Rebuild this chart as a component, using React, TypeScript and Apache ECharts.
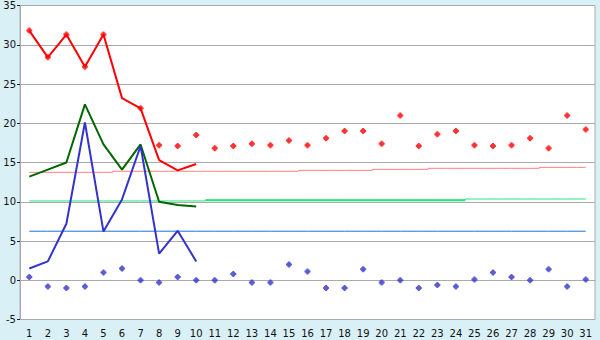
import React, { useEffect, useRef } from "react";
import * as echarts from "echarts";

const days = Array.from({ length: 31 }, (_, i) => String(i + 1));

const redLine = [31.8, 28.4, 31.3, 27.2, 31.3, 23.2, 21.9, 15.3, 14.0, 14.8];
const redDots = [31.8, 28.4, 31.3, 27.2, 31.3, null, 21.9, 17.2, 17.1, 18.5, 16.8, 17.1, 17.4, 17.2, 17.8, 17.2, 18.1, 19.0, 19.0, 17.4, 21.0, 17.1, 18.6, 19.0, 17.2, 17.1, 17.2, 18.1, 16.8, 21.0, 19.2];
const greenLine = [13.2, 14.1, 15.0, 22.4, 17.3, 14.1, 17.3, 10.0, 9.6, 9.4];
const blueLine = [1.5, 2.4, 7.2, 20.1, 6.2, 10.3, 17.1, 3.4, 6.3, 2.4];
const blueDots = [0.4, -0.8, -1.0, -0.8, 1.0, 1.5, 0.0, -0.3, 0.4, 0.0, 0.0, 0.8, -0.3, -0.3, 2.0, 1.1, -1.0, -1.0, 1.4, -0.3, 0.0, -1.0, -0.6, -0.8, 0.1, 1.0, 0.4, 0.0, 1.4, -0.8, 0.1];
const pinkRef = [13.75, 13.75, 13.75, 13.75, 13.75, 13.88, 13.88, 13.88, 13.88, 13.88, 13.88, 13.88, 13.88, 13.88, 13.88, 14.0, 14.0, 14.0, 14.0, 14.13, 14.13, 14.13, 14.26, 14.26, 14.26, 14.26, 14.26, 14.26, 14.38, 14.38, 14.38];
const greenRef = [10.1, 10.1, 10.1, 10.1, 10.1, 10.1, 10.1, 10.1, 10.1, 10.1, 10.2, 10.2, 10.2, 10.2, 10.2, 10.2, 10.2, 10.2, 10.2, 10.2, 10.2, 10.2, 10.2, 10.2, 10.35, 10.35, 10.35, 10.35, 10.35, 10.35, 10.35];
const greenRefBold = [null, null, null, null, null, null, null, null, null, null, 10.2, 10.2, 10.2, 10.2, 10.2, 10.2, 10.2, 10.2, 10.2, 10.2, 10.2, 10.2, 10.2, 10.2, null, null, null, null, null, null, null];
const blueRef = Array.from({ length: 31 }, () => 6.25);

const yMin = -5;
const yMax = 35;
const yStep = 5;

const marker = "path://M2,0H4V1H5V2H6V4H5V5H4V6H2V5H1V4H0V2H1V1H2Z";

export default function App() {
  const ref = useRef<HTMLDivElement>(null);
  useEffect(() => {
    if (!ref.current) return;
    const chart = echarts.init(ref.current, undefined, { renderer: "svg" });
    const font = { fontFamily: "DejaVu Sans", fontSize: 10, color: "#111" };
    const lineS = (name: string, data: any[], color: string, width: number, z = 2, step?: any) => ({
      name,
      type: "line",
      data,
      step,
      z,
      symbol: "none",
      connectNulls: false,
      lineStyle: { color, width },
      itemStyle: { color },
    });
    chart.setOption({
      animation: false,
      backgroundColor: "#daf0f7",
      grid: {
        left: 20,
        right: 5,
        top: 5.5,
        bottom: 20.5,
        show: true,
        backgroundColor: "#ffffff",
        borderColor: "#aaaaaa",
        borderWidth: 1,
      },
      xAxis: {
        type: "category",
        data: days,
        boundaryGap: true,
        axisLine: { lineStyle: { color: "#aaaaaa" } },
        axisTick: { alignWithLabel: true, length: 5, lineStyle: { color: "#222" } },
        axisLabel: { ...font, margin: 9, interval: 0 },
        splitLine: { show: false },
      },
      yAxis: {
        type: "value",
        min: yMin,
        max: yMax,
        interval: yStep,
        axisLine: { show: true, lineStyle: { color: "#aaaaaa" } },
        axisTick: { show: true, length: 3, lineStyle: { color: "#222" } },
        axisLabel: { ...font, margin: 4 },
        splitLine: { lineStyle: { color: "#aaaaaa", width: 1 } },
      },
      series: [
        lineS("pinkRef", pinkRef, "#ff8080", 1, 1, "middle"),
        lineS("greenRef", greenRef, "#22e67a", 1, 1, "middle"),
        lineS("greenRefBold", greenRefBold, "#22e67a", 2, 1, "middle"),
        lineS("blueRef", blueRef, "#1f6fd8", 1, 1),
        lineS("green", greenLine, "#006600", 2, 3),
        lineS("blue", blueLine, "#3333cc", 2, 3),
        lineS("red", redLine, "#ff0000", 2, 3),
        {
          name: "redDots",
          type: "scatter",
          data: redDots,
          symbol: marker,
          symbolSize: 6,
          z: 4,
          itemStyle: { color: "#ff0000" },
        },
        {
          name: "blueDots",
          type: "scatter",
          data: blueDots,
          symbol: marker,
          symbolSize: 6,
          z: 4,
          itemStyle: { color: "#3333cc" },
        },
      ],
    });
    return () => chart.dispose();
  }, []);
  return <div ref={ref} style={{ width: 600, height: 340, position: "absolute", left: 0, top: 0 }} />;
}
